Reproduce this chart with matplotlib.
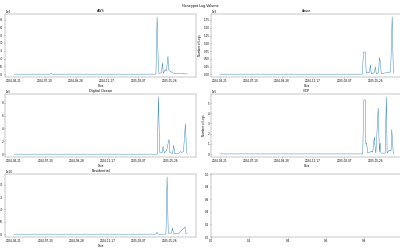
import matplotlib
matplotlib.use("Agg")
import matplotlib.pyplot as plt
import matplotlib.dates as mdates
import pandas as pd

# daily log counts (sparse points, line joins them)
aws_dates = ["2024-04-21", "2024-07-23", "2024-07-26", "2024-07-29", "2025-04-21",
             "2025-04-22", "2025-04-25", "2025-04-28", "2025-04-30", "2025-05-06",
             "2025-05-09", "2025-05-11", "2025-05-16", "2025-05-19", "2025-05-23",
             "2025-05-25", "2025-05-29", "2025-06-03", "2025-06-10", "2025-07-12"]
aws_logs = [0.01e6, 0.01e6, 0.05e6, 0.01e6, 0.01e6,
            0.05e6, 3.67e6, 0.7e6, 0.05e6, 0.1e6,
            0.73e6, 0.05e6, 0.3e6, 0.2e6, 1.15e6,
            0.3e6, 0.2e6, 0.1e6, 0.05e6, 0.02e6]

azure_dates = ["2024-04-21", "2025-04-23", "2025-04-26", "2025-05-01", "2025-05-03",
               "2025-05-07", "2025-05-11", "2025-05-14", "2025-05-16", "2025-05-23",
               "2025-05-27", "2025-05-29", "2025-06-04", "2025-06-06", "2025-06-08",
               "2025-06-11", "2025-06-25", "2025-07-05", "2025-07-09", "2025-07-12"]
azure_logs = [0.01e6, 0.01e6, 0.72e6, 0.72e6, 0.05e6,
              0.08e6, 0.05e6, 0.31e6, 0.02e6, 0.05e6,
              0.24e6, 0.02e6, 0.05e6, 0.54e6, 0.45e6,
              0.02e6, 0.06e6, 0.08e6, 1.85e6, 0.05e6]

do_dates = ["2024-04-21", "2025-04-23", "2025-04-26", "2025-04-29", "2025-05-05",
            "2025-05-08", "2025-05-11", "2025-05-17", "2025-05-20", "2025-05-23",
            "2025-05-25", "2025-06-01", "2025-06-04", "2025-06-07", "2025-06-16",
            "2025-06-21", "2025-06-25", "2025-06-29", "2025-07-04", "2025-07-07",
            "2025-07-09"]
do_logs = [0.02e5, 0.02e5, 8.9e5, 0.3e5, 0.2e5,
           1.2e5, 0.2e5, 0.6e5, 1.5e5, 2.3e5,
           0.3e5, 0.1e5, 1.4e5, 0.1e5, 0.1e5,
           0.4e5, 0.3e5, 0.4e5, 4.7e5, 0.3e5,
           0.1e5]

gcp_dates = ["2024-04-21", "2025-04-24", "2025-04-27", "2025-05-01", "2025-05-02",
             "2025-05-04", "2025-05-07", "2025-05-13", "2025-05-17", "2025-05-20",
             "2025-05-24", "2025-05-26", "2025-05-28", "2025-06-03", "2025-06-06",
             "2025-06-08", "2025-06-10", "2025-06-21", "2025-06-24", "2025-06-26",
             "2025-07-02", "2025-07-06", "2025-07-08", "2025-07-12"]
gcp_logs = [0.02e5, 0.02e5, 5.3e5, 5.3e5, 1.0e5,
            1.1e5, 0.1e5, 0.2e5, 0.3e5, 0.2e5,
            1.7e5, 0.7e5, 0.1e5, 4.5e5, 0.2e5,
            1.1e5, 0.1e5, 0.1e5, 5.6e5, 0.1e5,
            0.4e5, 0.3e5, 2.4e5, 0.0]

res_dates = ["2024-04-21", "2025-04-20", "2025-04-23", "2025-04-26", "2025-05-16",
             "2025-05-19", "2025-05-22", "2025-05-30", "2025-06-02", "2025-06-04",
             "2025-06-16", "2025-06-21", "2025-06-28", "2025-07-02", "2025-07-04",
             "2025-07-06", "2025-07-10"]
res_logs = [0.01e10, 0.01e10, 0.09e10, 0.01e10, 0.01e10,
            2.31e10, 0.05e10, 0.05e10, 0.25e10, 0.05e10,
            0.02e10, 0.1e10, 0.2e10, 0.25e10, 0.3e10,
            0.05e10, 0.02e10]

tick_dates = ["2024-04-21", "2024-07-10", "2024-09-28", "2024-12-17", "2025-03-07", "2025-05-26"]

panels = [("AWS", aws_dates, aws_logs),
          ("Azure", azure_dates, azure_logs),
          ("Digital Ocean", do_dates, do_logs),
          ("GCP", gcp_dates, gcp_logs),
          ("Residential", res_dates, res_logs)]

fig, axes = plt.subplots(3, 2, figsize=(20, 12.5))
fig.subplots_adjust(left=0.01325, right=1.005, bottom=0.052, top=0.944,
                    wspace=0.08, hspace=0.27)
fig.suptitle("Honeypot Log Volume", y=0.985)

for ax, (name, dates, logs) in zip(axes.flat, panels):
    ax.plot(pd.to_datetime(dates), logs)
    ax.set_title(name)
    ax.set_xlabel("Date")
    ax.set_ylabel("Number of Logs")
    ax.set_xticks(pd.to_datetime(tick_dates))
    ax.xaxis.set_major_formatter(mdates.DateFormatter("%Y-%m-%d"))
    ax.ticklabel_format(axis="y", style="sci", scilimits=(0, 0))

fig.savefig("out.png", dpi=20)
